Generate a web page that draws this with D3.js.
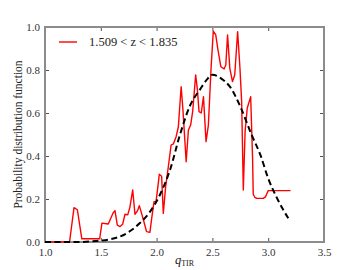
<!DOCTYPE html>
<html>
<head>
<meta charset="utf-8">
<script src="https://cdn.jsdelivr.net/npm/d3@7"></script>
<style>
  body { margin: 0; background: #fff; }
</style>
</head>
<body>
<svg id="chart"></svg>
<script>
// observed distribution (red)
const obsX = [1.0, 1.22, 1.26, 1.29, 1.33, 1.49, 1.51, 1.567, 1.61, 1.627, 1.648, 1.672, 1.696, 1.717, 1.741, 1.76, 1.786, 1.806, 1.83, 1.845, 1.866, 1.887, 1.91, 1.94, 1.956, 1.977, 1.995, 2.015, 2.024, 2.045, 2.06, 2.081, 2.105, 2.13, 2.15, 2.175, 2.195, 2.22, 2.235, 2.265, 2.285, 2.305, 2.323, 2.35, 2.366, 2.38, 2.40, 2.42, 2.443, 2.464, 2.488, 2.508, 2.53, 2.55, 2.576, 2.605, 2.62, 2.636, 2.656, 2.68, 2.70, 2.726, 2.747, 2.762, 2.777, 2.793, 2.812, 2.843, 2.86, 2.866, 2.88, 2.897, 2.956, 2.975, 2.986, 3.0, 3.2];
const obsY = [0, 0, 0.16, 0.15, 0.015, 0.015, 0.088, 0.084, 0.135, 0.146, 0.078, 0.072, 0.083, 0.129, 0.126, 0.16, 0.242, 0.129, 0.146, 0.169, 0.132, 0.093, 0.048, 0.045, 0.11, 0.188, 0.188, 0.273, 0.315, 0.306, 0.133, 0.257, 0.35, 0.451, 0.456, 0.49, 0.536, 0.722, 0.622, 0.373, 0.521, 0.544, 0.606, 0.777, 0.707, 0.606, 0.6, 0.676, 0.467, 0.544, 0.808, 0.981, 0.963, 0.893, 0.815, 0.805, 0.823, 0.963, 0.808, 0.746, 0.777, 0.978, 0.808, 0.653, 0.242, 0.513, 0.622, 0.676, 0.389, 0.222, 0.208, 0.203, 0.203, 0.21, 0.222, 0.239, 0.239];

// fitted curve (black dashed)
const fitX = [1.0, 1.3, 1.46, 1.58, 1.73, 1.85, 1.94, 2.03, 2.12, 2.21, 2.3, 2.39, 2.45, 2.5, 2.58, 2.66, 2.75, 2.85, 2.93, 3.0, 3.08, 3.18];
const fitY = [0, 0.0, 0.005, 0.012, 0.04, 0.088, 0.14, 0.22, 0.335, 0.5, 0.635, 0.71, 0.755, 0.778, 0.76, 0.72, 0.63, 0.5, 0.405, 0.296, 0.203, 0.11];

const xTicks = [1.0, 1.5, 2.0, 2.5, 3.0, 3.5];
const yTicks = [0.0, 0.2, 0.4, 0.6, 0.8, 1.0];
const legendLabel = "1.509 < z < 1.835";

const serif = "'Liberation Serif', 'DejaVu Serif', 'Times New Roman', serif";

const width = 360, height = 270;
const margin = { top: 27, right: 36, bottom: 28, left: 45 };
const innerW = width - margin.left - margin.right;
const innerH = height - margin.top - margin.bottom;

const svg = d3.select("#chart").attr("width", width).attr("height", height);

const x = d3.scaleLinear().domain([1.0, 3.5]).range([margin.left, margin.left + innerW]);
const y = d3.scaleLinear().domain([0, 1]).range([margin.top + innerH, margin.top]);

const fmt = d3.format(".1f");

// ticks inside, on all four sides
function styleAxis(g) {
	g.attr("font-family", null);
	g.select(".domain").remove();
	g.selectAll(".tick line").attr("stroke", "#222").attr("stroke-width", 0.8);
	g.selectAll(".tick text")
		.attr("fill", "#333")
		.style("font-family", serif)
		.style("font-size", "11px");
}

svg.append("g")
	.attr("transform", "translate(0," + (margin.top + innerH) + ")")
	.call(d3.axisBottom(x).tickValues(xTicks).tickFormat(fmt).tickSizeInner(-4).tickSizeOuter(0).tickPadding(6))
	.call(styleAxis);
svg.append("g")
	.attr("transform", "translate(0," + margin.top + ")")
	.call(d3.axisTop(x).tickValues(xTicks).tickFormat("").tickSizeInner(-4).tickSizeOuter(0))
	.call(styleAxis);
svg.append("g")
	.attr("transform", "translate(" + margin.left + ",0)")
	.call(d3.axisLeft(y).tickValues(yTicks).tickFormat(fmt).tickSizeInner(-4).tickSizeOuter(0).tickPadding(5))
	.call(styleAxis);
svg.append("g")
	.attr("transform", "translate(" + (margin.left + innerW) + ",0)")
	.call(d3.axisRight(y).tickValues(yTicks).tickFormat("").tickSizeInner(-4).tickSizeOuter(0))
	.call(styleAxis);

// frame
svg.append("rect")
	.attr("x", margin.left).attr("y", margin.top)
	.attr("width", innerW).attr("height", innerH)
	.attr("fill", "none").attr("stroke", "#8c8c8c").attr("stroke-width", 2);

const obs = obsX.map((v, i) => [v, obsY[i]]);
const fit = fitX.map((v, i) => [v, fitY[i]]);

svg.append("path")
	.datum(obs)
	.attr("fill", "none")
	.attr("stroke", "#ff0000")
	.attr("stroke-width", 1.4)
	.attr("stroke-linejoin", "round")
	.attr("d", d3.line().x(d => x(d[0])).y(d => y(d[1])));

svg.append("path")
	.datum(fit)
	.attr("fill", "none")
	.attr("stroke", "#000")
	.attr("stroke-width", 2)
	.attr("stroke-dasharray", "6,3.5")
	.attr("d", d3.line().curve(d3.curveMonotoneX).x(d => x(d[0])).y(d => y(d[1])));

// legend
svg.append("line")
	.attr("x1", 59).attr("x2", 77).attr("y1", 42).attr("y2", 42)
	.attr("stroke", "#ff0000").attr("stroke-width", 1.4);
svg.append("text")
	.attr("x", 89).attr("y", 46)
	.attr("fill", "#222")
	.style("font-family", serif)
	.style("font-size", "12.5px")
	.text(legendLabel);

// axis labels
svg.append("text")
	.attr("transform", "translate(22," + (margin.top + innerH / 2) + ") rotate(-90)")
	.attr("text-anchor", "middle")
	.attr("fill", "#222")
	.style("font-family", serif)
	.style("font-size", "11.5px")
	.text("Probability distribution function");

const xl = svg.append("text")
	.attr("x", x(2.25)).attr("y", 264)
	.attr("text-anchor", "middle")
	.attr("fill", "#222")
	.style("font-family", serif);
xl.append("tspan").style("font-style", "italic").style("font-size", "12.5px").text("q");
xl.append("tspan").attr("dy", 2).style("font-size", "8px").text("TIR");
</script>
</body>
</html>
